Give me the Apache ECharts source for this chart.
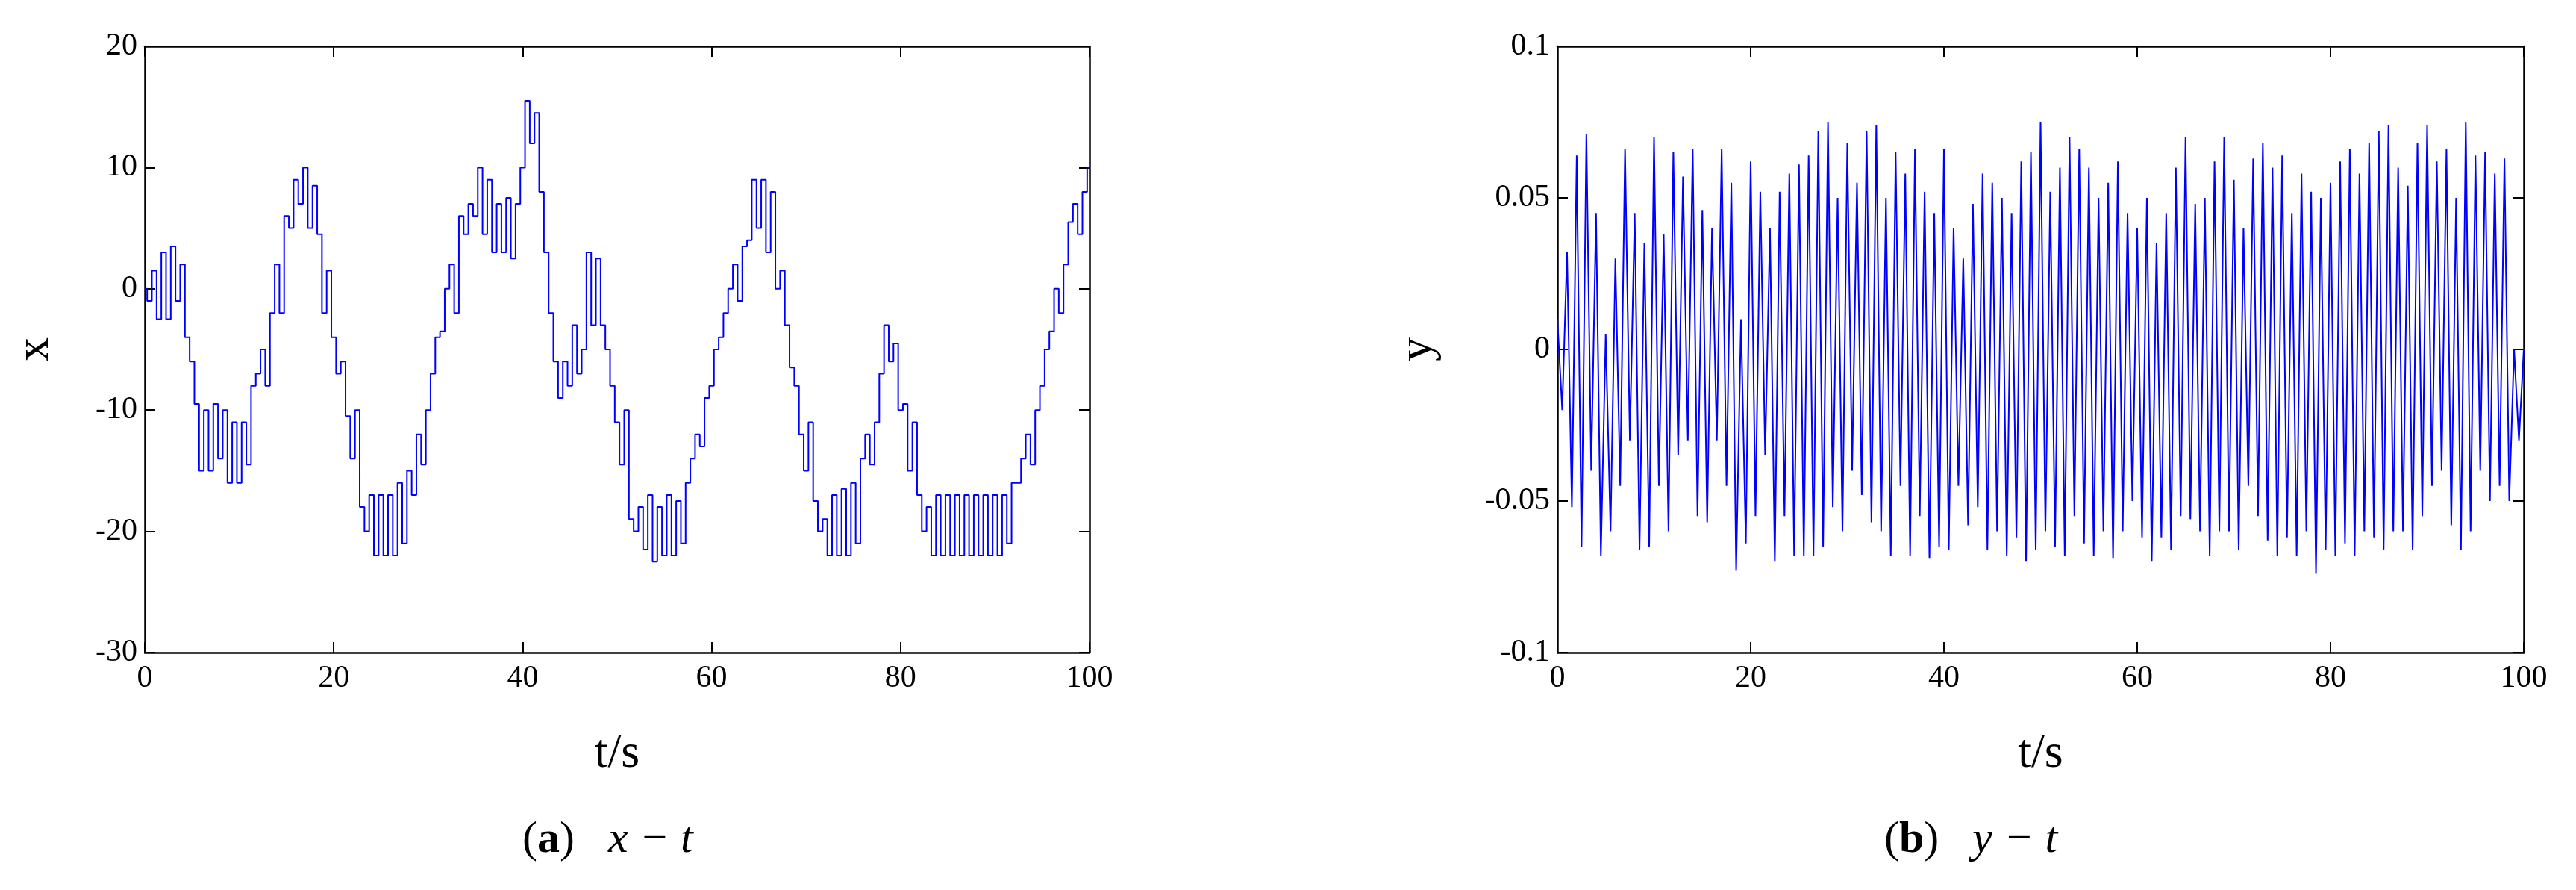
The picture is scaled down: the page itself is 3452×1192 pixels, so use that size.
<!DOCTYPE html>
<html>
<head>
<meta charset="utf-8">
<script src="https://cdn.jsdelivr.net/npm/echarts@6/dist/echarts.min.js"></script>
<style>
html, body { margin: 0; padding: 0; background: #fff; }
#main { width: 3452px; height: 1192px; }
</style>
</head>
<body>
<div id="main"></div>
<script>
// time step 0.5 s, 0..100
var tStep = 0.5;
var xVals = [
    0, -1, 1.5, -2.5, 3, -2.5, 3.5, -1, 2, -4, -6,
    -9.5, -15, -10, -15, -9.5, -14, -10, -16, -11, -16,
    -11, -14.5, -8, -7, -5, -8, -2, 2, -2, 6,
    5, 9, 7, 10, 5, 8.5, 4.5, -2, 1.5, -4,
    -7, -6, -10.5, -14, -10, -18, -20, -17, -22, -17,
    -22, -17, -22, -16, -21, -15, -17, -12, -14.5, -10,
    -7, -4, -3.5, 0, 2, -2, 6, 4.5, 7, 6,
    10, 4.5, 9, 3, 7, 3, 7.5, 2.5, 7, 10,
    15.5, 12, 14.5, 8, 3, -2, -6, -9, -6, -8,
    -3, -7, -5, 3, -3, 2.5, -3, -5, -8, -11,
    -14.5, -10, -19, -20, -18, -21.5, -17, -22.5, -18, -22,
    -17, -22, -17.5, -21, -16, -14, -12, -13, -9, -8,
    -5, -4, -2, 0, 2, -1, 3.5, 4, 9, 5,
    9, 3, 8, 0, 1.5, -3, -6.5, -8, -12, -15,
    -11, -17.5, -20, -19, -22, -17, -22, -16.5, -22, -16,
    -21, -14, -12, -14.5, -11, -7, -3, -6, -4.5, -10,
    -9.5, -15, -11, -17, -20, -18, -22, -17, -22, -17,
    -22, -17, -22, -17, -22, -17, -22, -17, -22, -17,
    -22, -17, -21, -16, -16, -14, -12, -14.5, -10, -8,
    -5, -3.5, 0, -2, 2, 5.5, 7, 4.5, 8, 10
];
var yVals = [
    0.01, -0.02, 0.032, -0.052, 0.064, -0.065, 0.071, -0.04, 0.045, -0.068, 0.005,
    -0.06, 0.03, -0.045, 0.066, -0.03, 0.045, -0.066, 0.035, -0.065, 0.07,
    -0.045, 0.038, -0.06, 0.065, -0.035, 0.057, -0.03, 0.066, -0.055, 0.046,
    -0.057, 0.04, -0.03, 0.066, -0.045, 0.055, -0.073, 0.01, -0.064, 0.062,
    -0.055, 0.052, -0.035, 0.04, -0.07, 0.052, -0.055, 0.058, -0.068, 0.061,
    -0.068, 0.064, -0.068, 0.072, -0.065, 0.075, -0.052, 0.05, -0.06, 0.068,
    -0.04, 0.055, -0.048, 0.072, -0.057, 0.074, -0.06, 0.05, -0.068, 0.065,
    -0.045, 0.058, -0.068, 0.066, -0.055, 0.052, -0.069, 0.045, -0.065, 0.066,
    -0.066, 0.04, -0.045, 0.03, -0.058, 0.048, -0.052, 0.058, -0.066, 0.055,
    -0.06, 0.05, -0.068, 0.045, -0.062, 0.062, -0.07, 0.065, -0.066, 0.075,
    -0.06, 0.052, -0.065, 0.06, -0.068, 0.07, -0.055, 0.066, -0.064, 0.06,
    -0.068, 0.05, -0.06, 0.055, -0.069, 0.062, -0.06, 0.045, -0.05, 0.04,
    -0.062, 0.05, -0.07, 0.035, -0.062, 0.045, -0.066, 0.06, -0.055, 0.07,
    -0.056, 0.048, -0.06, 0.05, -0.068, 0.062, -0.06, 0.07, -0.06, 0.056,
    -0.066, 0.04, -0.045, 0.063, -0.055, 0.068, -0.063, 0.06, -0.068, 0.064,
    -0.062, 0.045, -0.068, 0.058, -0.06, 0.052, -0.074, 0.05, -0.066, 0.055,
    -0.068, 0.062, -0.064, 0.066, -0.068, 0.058, -0.06, 0.068, -0.062, 0.072,
    -0.066, 0.074, -0.06, 0.06, -0.06, 0.054, -0.066, 0.068, -0.055, 0.074,
    -0.045, 0.062, -0.04, 0.066, -0.058, 0.05, -0.066, 0.075, -0.06, 0.064,
    -0.04, 0.065, -0.05, 0.058, -0.045, 0.063, -0.05, 0.0, -0.03, 0.0
];

var tAxis = [];
for (var i = 0; i < xVals.length; i++) tAxis.push(i * tStep);
function pairs(vals) {
    return vals.map(function(v, i) { return [tAxis[i], v]; });
}

var font = '"Liberation Serif", "Times New Roman", serif';
var myChart = echarts.init(document.getElementById('main'));

function bottomAxis(idx) {
    return {
        type: 'value', gridIndex: idx, min: 0, max: 100, interval: 20,
        name: 't/s', nameLocation: 'middle', nameGap: 104,
        nameTextStyle: { fontFamily: font, fontSize: 64, color: '#000' },
        axisLine: { onZero: false, lineStyle: { color: '#000', width: 2.5 } },
        axisTick: { inside: true, length: 14, lineStyle: { color: '#000', width: 2 } },
        axisLabel: { fontFamily: font, fontSize: 42, color: '#000', margin: 14 },
        splitLine: { show: false }
    };
}
function topAxis(idx) {
    return {
        type: 'value', gridIndex: idx, position: 'top', min: 0, max: 100, interval: 20,
        axisLine: { onZero: false, lineStyle: { color: '#000', width: 2.5 } },
        axisTick: { inside: true, length: 14, lineStyle: { color: '#000', width: 2 } },
        axisLabel: { show: false }, splitLine: { show: false }
    };
}
function leftAxis(idx, name, min, max, step, gap) {
    return {
        type: 'value', gridIndex: idx, min: min, max: max, interval: step,
        name: name, nameLocation: 'middle', nameGap: gap, nameRotate: 90,
        nameTextStyle: { fontFamily: font, fontSize: 64, color: '#000' },
        axisLine: { onZero: false, lineStyle: { color: '#000', width: 2.5 } },
        axisTick: { inside: true, length: 14, lineStyle: { color: '#000', width: 2 } },
        axisLabel: { fontFamily: font, fontSize: 42, color: '#000', margin: 10 },
        splitLine: { show: false }
    };
}
function rightAxis(idx, min, max, step) {
    return {
        type: 'value', gridIndex: idx, position: 'right', min: min, max: max, interval: step,
        axisLine: { onZero: false, lineStyle: { color: '#000', width: 2.5 } },
        axisTick: { inside: true, length: 14, lineStyle: { color: '#000', width: 2 } },
        axisLabel: { show: false }, splitLine: { show: false }
    };
}

var option = {
    backgroundColor: '#fff',
    animation: false,
    grid: [
        { left: 194, top: 62, width: 1266, height: 812 },
        { left: 2087, top: 62, width: 1295, height: 812 }
    ],
    xAxis: [bottomAxis(0), topAxis(0), bottomAxis(1), topAxis(1)],
    yAxis: [
        leftAxis(0, 'x', -30, 20, 10, 115), rightAxis(0, -30, 20, 10),
        leftAxis(1, 'y', -0.1, 0.1, 0.05, 155), rightAxis(1, -0.1, 0.1, 0.05)
    ],
    series: [
        {
            type: 'line', xAxisIndex: 0, yAxisIndex: 0, data: pairs(xVals), step: 'middle',
            showSymbol: false, lineStyle: { color: '#0000ff', width: 2 }
        },
        {
            type: 'line', xAxisIndex: 2, yAxisIndex: 2, data: pairs(yVals),
            showSymbol: false, lineStyle: { color: '#0000ff', width: 2 }
        }
    ],
    graphic: [
        {
            type: 'text', left: 700, top: 1095,
            style: {
                text: '({b|a})   {i|x − t}',
                fontFamily: font, fontSize: 60, fill: '#000',
                rich: {
                    b: { fontFamily: font, fontSize: 60, fontWeight: 'bold', fill: '#000' },
                    i: { fontFamily: font, fontSize: 60, fontStyle: 'italic', fill: '#000' }
                }
            }
        },
        {
            type: 'text', left: 2525, top: 1095,
            style: {
                text: '({b|b})   {i|y − t}',
                fontFamily: font, fontSize: 60, fill: '#000',
                rich: {
                    b: { fontFamily: font, fontSize: 60, fontWeight: 'bold', fill: '#000' },
                    i: { fontFamily: font, fontSize: 60, fontStyle: 'italic', fill: '#000' }
                }
            }
        }
    ]
};
myChart.setOption(option);
</script>
</body>
</html>
